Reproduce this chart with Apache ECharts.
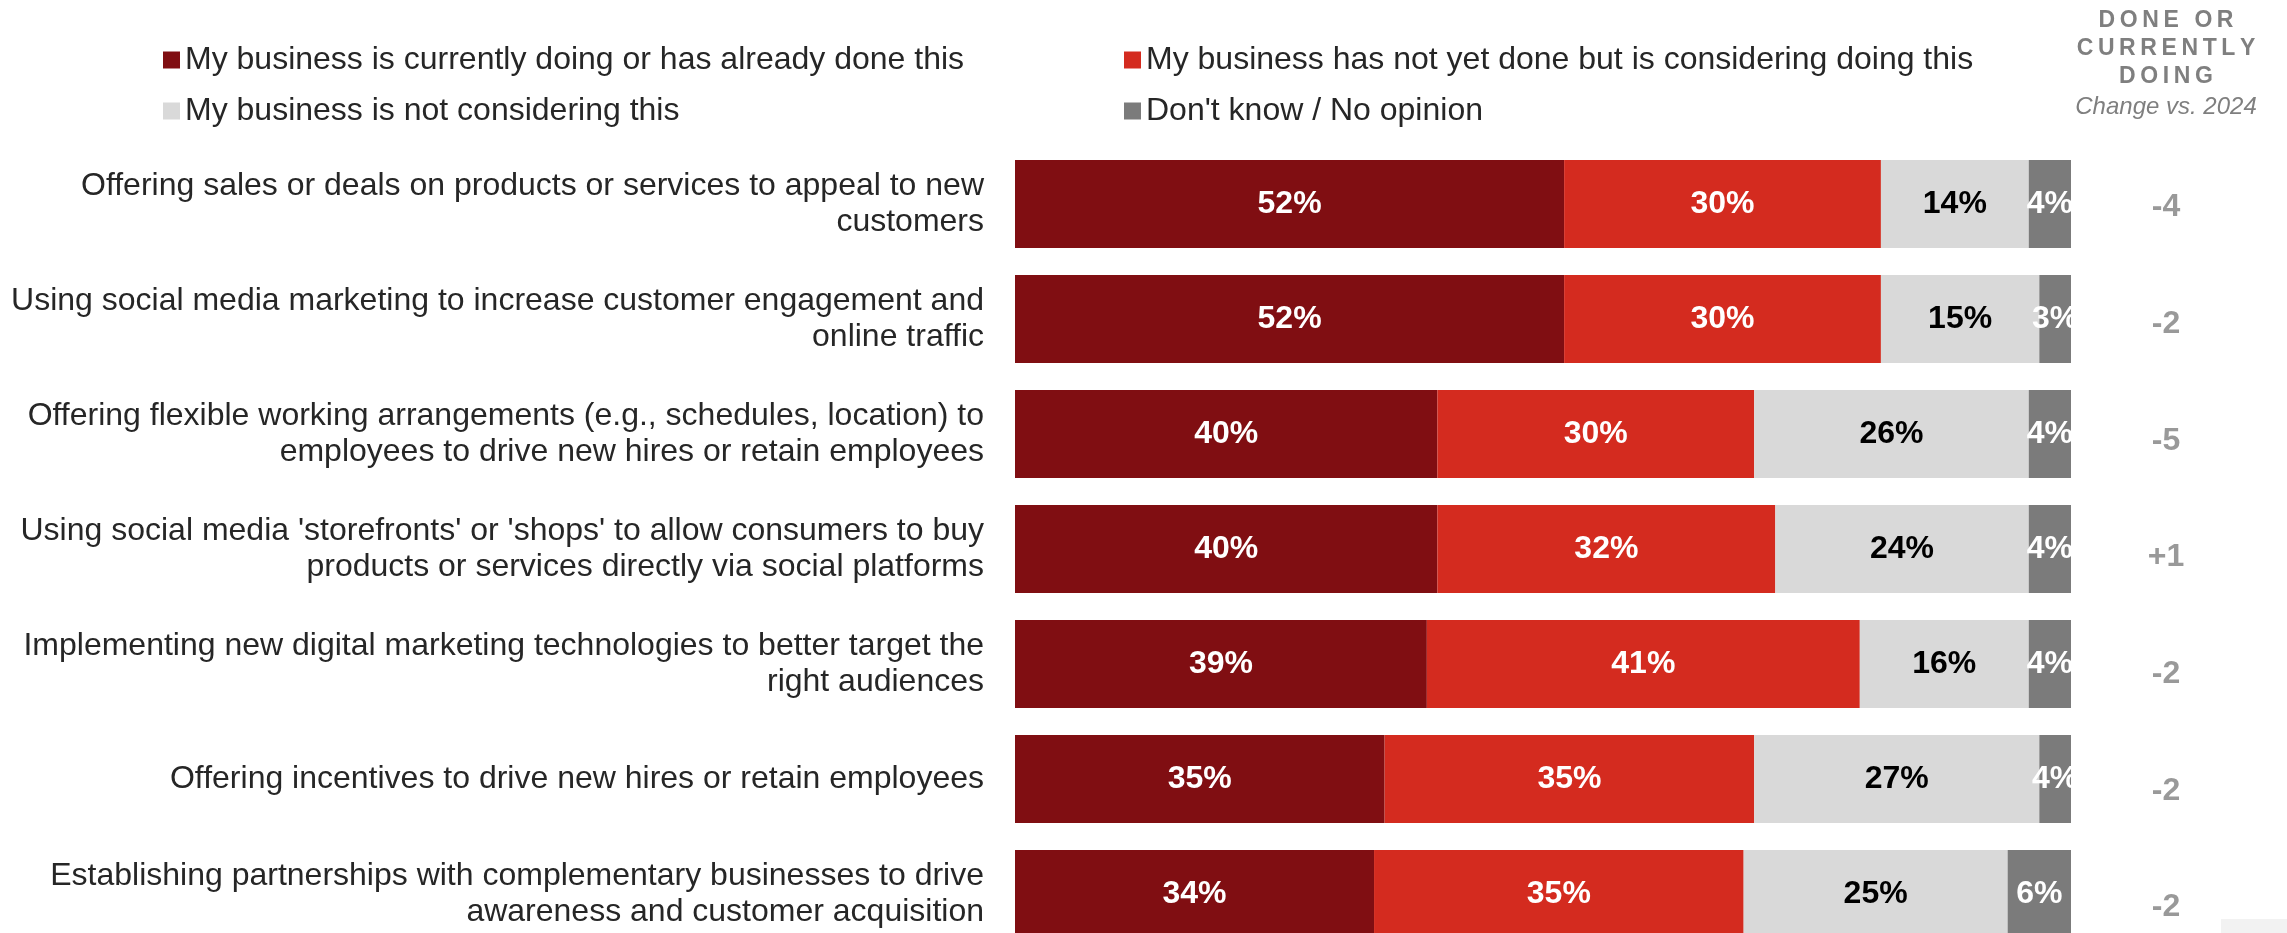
<!DOCTYPE html>
<html>
<head>
<meta charset="utf-8">
<title>Business growth strategies</title>
<script src="https://cdn.jsdelivr.net/npm/echarts@6/dist/echarts.min.js"></script>
<style>
  html, body { margin: 0; padding: 0; background: #ffffff; }
  #chart { width: 2287px; height: 933px; }
</style>
</head>
<body>
<div id="chart"></div>
<script>
// Strategies (line breaks give the two-line wrapping of the axis labels)
const categories = [
  'Offering sales or deals on products or services to appeal to new\ncustomers',
  'Using social media marketing to increase customer engagement and\nonline traffic',
  'Offering flexible working arrangements (e.g., schedules, location) to\nemployees to drive new hires or retain employees',
  "Using social media 'storefronts' or 'shops' to allow consumers to buy\nproducts or services directly via social platforms",
  'Implementing new digital marketing technologies to better target the\nright audiences',
  'Offering incentives to drive new hires or retain employees',
  'Establishing partnerships with complementary businesses to drive\nawareness and customer acquisition'
];

const seriesNames = [
  'My business is currently doing or has already done this',
  'My business has not yet done but is considering doing this',
  'My business is not considering this',
  "Don't know / No opinion"
];

// Shares of respondents, percent
const doingValues       = [52, 52, 40, 40, 39, 35, 34];
const consideringValues = [30, 30, 30, 32, 41, 35, 35];
const notConsidering    = [14, 15, 26, 24, 16, 27, 25];
const dontKnowValues    = [4, 3, 4, 4, 4, 4, 6];

// Change in "done or currently doing" vs. 2024, percentage points
const changeValues = [-4, -2, -5, 1, -2, -2, -2];

const colors = ['#800e12', '#d42b1f', '#d9d9d9', '#7b7b7b'];
const labelColors = ['#ffffff', '#ffffff', '#000000', '#ffffff'];
const FONT = '"Liberation Sans", Arial, Helvetica, sans-serif';
const TEXT_SIZE = 32;

const chart = echarts.init(document.getElementById('chart'), null, { renderer: 'canvas' });

function stackSeries(name, values, idx) {
  return {
    name: name,
    type: 'bar',
    stack: 'total',
    xAxisIndex: 0,
    yAxisIndex: 0,
    barWidth: 88,
    data: values,
    itemStyle: { color: colors[idx] },
    label: {
      show: true,
      position: 'inside',
      formatter: '{c}%',
      color: labelColors[idx],
      fontFamily: FONT,
      fontWeight: 'bold',
      fontSize: TEXT_SIZE
    },
    emphasis: { disabled: true },
    animation: false
  };
}

// thin-spaced caps for the column header
function spaced(s) {
  return s.split('').join('\u2009');
}

function legendBlock(names, left) {
  return {
    data: names,
    orient: 'vertical',
    left: left,
    top: 42,
    padding: 0,
    icon: 'rect',
    itemWidth: 17,
    itemHeight: 17,
    itemGap: 15,
    selectedMode: false,
    textStyle: { fontSize: TEXT_SIZE, color: '#262626', lineHeight: 36, fontFamily: FONT }
  };
}

const option = {
  backgroundColor: '#ffffff',
  textStyle: { fontFamily: FONT },
  animation: false,
  legend: [
    legendBlock([seriesNames[0], seriesNames[2]], 163),
    legendBlock([seriesNames[1], seriesNames[3]], 1124)
  ],
  grid: [
    { left: 1015, width: 1056, top: 146.5, height: 805, outerBoundsMode: 'none', containLabel: false },
    { left: 2116, width: 100, top: 149, height: 817, outerBoundsMode: 'none', containLabel: false }
  ],
  xAxis: [
    { type: 'value', gridIndex: 0, min: 0, max: 100, show: false },
    { type: 'value', gridIndex: 1, min: -1, max: 1, show: false }
  ],
  yAxis: [
    {
      type: 'category',
      gridIndex: 0,
      data: categories,
      inverse: true,
      axisLine: { show: false },
      axisTick: { show: false },
      splitLine: { show: false },
      axisLabel: {
        margin: 31,
        align: 'right',
        fontSize: TEXT_SIZE,
        lineHeight: 36,
        color: '#262626',
        fontFamily: FONT
      }
    },
    {
      type: 'category',
      gridIndex: 1,
      data: categories,
      inverse: true,
      show: false
    }
  ],
  series: [
    stackSeries(seriesNames[0], doingValues, 0),
    stackSeries(seriesNames[1], consideringValues, 1),
    stackSeries(seriesNames[2], notConsidering, 2),
    stackSeries(seriesNames[3], dontKnowValues, 3),
    {
      name: 'change',
      type: 'scatter',
      xAxisIndex: 1,
      yAxisIndex: 1,
      symbolSize: 1,
      itemStyle: { color: 'rgba(0,0,0,0)' },
      data: categories.map((c, i) => [0, c, changeValues[i]]),
      encode: { x: 0, y: 1 },
      label: {
        show: true,
        position: 'inside',
        formatter: p => (p.value[2] > 0 ? '+' : '') + p.value[2],
        color: '#7f7f7f',
        fontWeight: 'bold',
        fontSize: TEXT_SIZE,
        fontFamily: FONT
      },
      emphasis: { disabled: true },
      silent: true
    }
  ],
  graphic: [
    {
      type: 'text',
      style: {
        text: spaced('DONE') + '\u2009 \u2009' + spaced('OR') + '\n' + spaced('CURRENTLY') + '\n' + spaced('DOING'),
        x: 2166,
        y: 7,
        align: 'center',
        textAlign: 'center',
        verticalAlign: 'top',
        fill: '#7f7f7f',
        font: 'bold 23px ' + FONT,
        lineHeight: 28
      }
    },
    {
      type: 'text',
      style: {
        text: 'Change vs. 2024',
        x: 2166,
        y: 95,
        align: 'center',
        textAlign: 'center',
        verticalAlign: 'top',
        fill: '#7f7f7f',
        font: 'italic 24px ' + FONT
      }
    },
    {
      type: 'rect',
      shape: { x: 2221, y: 919, width: 66, height: 14 },
      style: { fill: '#f2f2f2' },
      silent: true
    }
  ]
};

chart.setOption(option);
</script>
</body>
</html>
